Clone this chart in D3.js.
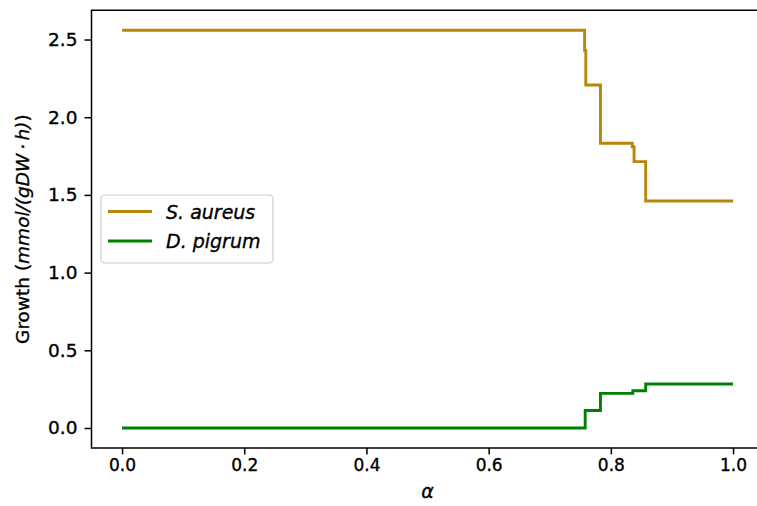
<!DOCTYPE html>
<html><head><meta charset="utf-8">
<script src="https://cdn.jsdelivr.net/npm/d3@7"></script>
<style>body{margin:0;background:#fff}svg{display:block}text{font-family:"DejaVu Sans",sans-serif;fill:#000;stroke:#000;stroke-width:0.35px}</style>
</head><body><svg id="c" width="757" height="506"></svg>
<script>
const seriesNames = ["S. aureus", "D. pigrum"];
const seriesColors = ["#b8860b", "#008000"];
const alphaAureus = [0, 0.757, 0.759, 0.783, 0.835, 0.838, 0.857, 1.0];
const growthAureus = [2.56, 2.43, 2.207, 1.832, 1.81, 1.714, 1.461, 1.461];
const alphaPigrum = [0, 0.758, 0.783, 0.836, 0.857, 1.0];
const growthPigrum = [0, 0.113, 0.223, 0.24, 0.283, 0.283];
const xTicks = [0, 0.2, 0.4, 0.6, 0.8, 1.0];
const yTicks = [0, 0.5, 1.0, 1.5, 2.0, 2.5];

const svg = d3.select("#c");
const L = 91.5, T = 10.3, B = 447.9;
const x = d3.scaleLinear().domain([-0.05, 1.05]).range([L, L + 1.1 * 611]);
const y = d3.scaleLinear().domain([-0.128, 2.688]).range([B, T]);

const series = [
  {name: seriesNames[0], color: seriesColors[0], pts: alphaAureus.map((a,i)=>[a, growthAureus[i]])},
  {name: seriesNames[1], color: seriesColors[1], pts: alphaPigrum.map((a,i)=>[a, growthPigrum[i]])}
];
const line = d3.line().x(d=>x(d[0])).y(d=>y(d[1])).curve(d3.curveStepAfter);
series.forEach(s=>{
  svg.append("path").attr("d", line(s.pts)).attr("fill","none")
    .attr("stroke", s.color).attr("stroke-width", 2.9);
});

// axes
const xAxis = d3.axisBottom(x).tickValues(xTicks).tickFormat(d3.format(".1f")).tickSize(6.5).tickPadding(4.5);
const gx = svg.append("g").attr("transform",`translate(0,${B})`).call(xAxis);
const yAxis = d3.axisLeft(y).tickValues(yTicks).tickFormat(d3.format(".1f")).tickSize(7).tickPadding(7);
const gy = svg.append("g").attr("transform",`translate(${L},0)`).call(yAxis);
[gx, gy].forEach(g=>{
  g.select(".domain").remove();
  g.selectAll(".tick line").attr("stroke","#000").attr("stroke-width",1.5);
  g.selectAll(".tick text").attr("fill","#000").style("font-family","DejaVu Sans");
});
gx.selectAll(".tick text").style("font-size","17px");
gy.selectAll(".tick text").style("font-size","18.5px");
// frame (right spine lies beyond the canvas)
const R = x.range()[1];
svg.append("path").attr("d", `M${R},${T}H${L}V${B}H${R}`)
  .attr("fill","none").attr("stroke","#000").attr("stroke-width",1.5);

// labels
svg.append("text").attr("x", x(0.5)).attr("y", 498).attr("text-anchor","middle")
  .style("font-size","19px").style("font-style","italic").text("α");
const yl = svg.append("text").attr("transform",`translate(29,${(T+B)/2}) rotate(-90)`)
  .attr("text-anchor","middle").style("font-size","18.5px");
yl.append("tspan").text("Growth (");
yl.append("tspan").style("font-style","italic").text("mmol/(gDW\u2009·\u2009h)");
yl.append("tspan").text(")");

// legend
const lg = svg.append("g");
lg.append("rect").attr("x",101).attr("y",195).attr("width",172).attr("height",68).attr("rx",4)
  .attr("fill","#fff").attr("fill-opacity",0.8).attr("stroke","#cccccc").attr("stroke-width",1.2);
series.forEach((s,i)=>{
  const yy = 211.5 + i*29.5;
  lg.append("line").attr("x1",108).attr("x2",152).attr("y1",yy).attr("y2",yy)
    .attr("stroke",s.color).attr("stroke-width",2.9);
  lg.append("text").attr("x",166).attr("y",yy+7).style("font-size","19px").style("font-style","italic")
    .text(s.name);
});
</script></body></html>
